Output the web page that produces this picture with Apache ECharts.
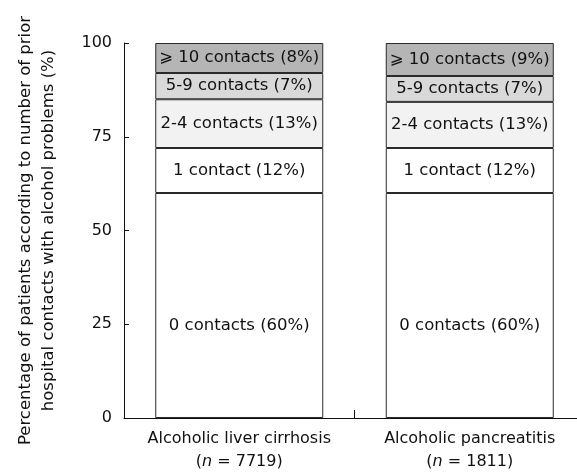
<!DOCTYPE html>
<html><head><meta charset="utf-8">
<script src="https://cdn.jsdelivr.net/npm/echarts@6/dist/echarts.min.js"></script>
<style>html,body{margin:0;padding:0;background:#fff}#c{width:577px;height:472px}</style>
</head><body><div id="c"></div>
<script>
const categories = ['Alcoholic liver cirrhosis', 'Alcoholic pancreatitis'];
const sampleSizes = ['7719', '1811'];
const seriesNames = ['0 contacts', '1 contact', '2-4 contacts', '5-9 contacts', '\u2A7E 10 contacts'];
const zeroContacts = [60, 60];
const oneContact = [12, 12];
const twoToFour = [13, 12.3];
const fiveToNine = [7, 6.9];
const tenPlus = [8, 8.8];
const pctLabels = [[60, 60], [12, 12], [13, 13], [7, 7], [8, 9]];
const yTicks = [0, 25, 50, 75, 100];

const values = [zeroContacts, oneContact, twoToFour, fiveToNine, tenPlus];
const colors = ['#ffffff', '#ffffff', '#f2f2f2', '#d9d9d9', '#b5b5b5'];
const FONT = 'DejaVu Sans';
const FS = 16.5;

const series = values.map((arr, si) => ({
  name: seriesNames[si],
  type: 'bar',
  stack: 'all',
  barWidth: 168,
  data: arr,
  itemStyle: { color: colors[si], borderColor: '#2a2a2a', borderWidth: 1 },
  label: {
    show: true, position: 'inside', fontFamily: FONT, fontSize: FS, color: '#111',
    offset: si === 0 ? [0, 20] : [0, 0],
    formatter: p => seriesNames[si] + ' (' + pctLabels[si][p.dataIndex] + '%)'
  },
  emphasis: { disabled: true }
}));

const chart = echarts.init(document.getElementById('c'), null, { renderer: 'canvas' });
chart.setOption({
  animation: false,
  grid: { left: 124, right: -8, top: 43, bottom: 54, containLabel: false, outerBoundsMode: 'none' },
  xAxis: {
    type: 'category', data: categories, boundaryGap: true,
    axisLine: { lineStyle: { color: '#111', width: 1 } },
    axisTick: { show: true, inside: true, length: 8, interval: 0, alignWithLabel: false, lineStyle: { color: '#111', width: 1 } },
    axisLabel: {
      interval: 0, hideOverlap: false,
      fontFamily: FONT, fontSize: 16, color: '#111', margin: 9, lineHeight: 23,
      formatter: (v, i) => v + '\n{p|(}{n|n}{p| = ' + sampleSizes[i] + ')}',
      rich: {
        p: { fontFamily: FONT, fontSize: 16, color: '#111' },
        n: { fontFamily: FONT, fontSize: 16, color: '#111', fontStyle: 'italic' }
      }
    },
    z: 10
  },
  yAxis: {
    type: 'value', min: 0, max: 100, interval: 25,
    name: 'Percentage of patients according to number of prior\nhospital contacts with alcohol problems (%)',
    nameLocation: 'middle', nameGap: 64, nameRotate: 90,
    nameTextStyle: { fontFamily: FONT, fontSize: FS, color: '#111', lineHeight: 23 },
    axisLine: { show: true, lineStyle: { color: '#111', width: 1 } },
    axisTick: { show: true, inside: true, length: 5, lineStyle: { color: '#111' } },
    axisLabel: { fontFamily: FONT, fontSize: 16, color: '#111', margin: 12,
      formatter: v => yTicks.includes(v) ? String(v) : '' },
    splitLine: { show: false }
  },
  series: series
});
</script></body></html>
